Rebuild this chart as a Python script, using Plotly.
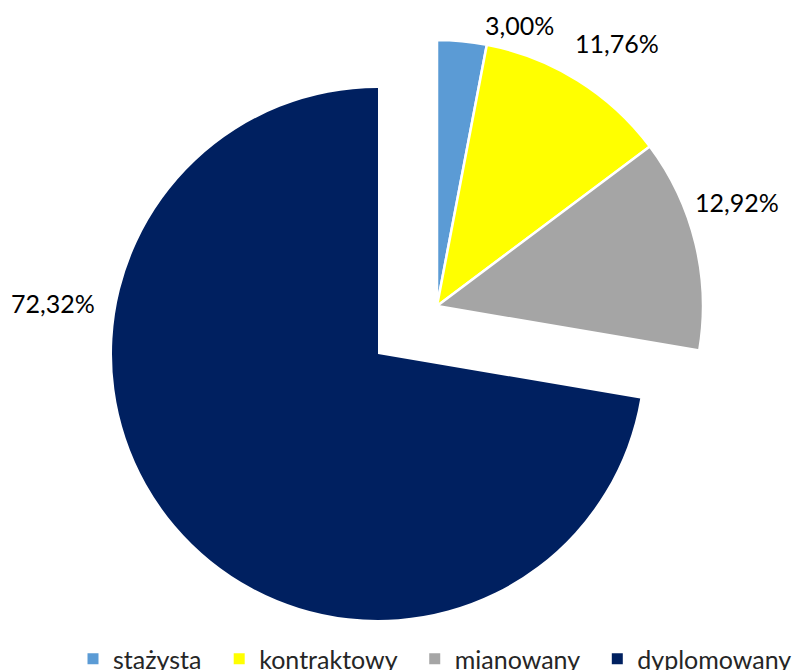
import plotly.graph_objects as go

categories = ["stażysta", "kontraktowy", "mianowany", "dyplomowany"]
values = [3.00, 11.76, 12.92, 72.32]
colors = ["#5B9BD5", "#FFFF00", "#A5A5A5", "#002060"]

# layout helpers (positions, not data); the page body adds an 8px offset
W, H = 795, 662
R = 266
center_small = (429, 298)   # px center of the three small slices
center_big = (370, 346)     # px center of the detached large slice
label_pos = [(511, 17), (609, 35), (729, 194), (45, 295)]  # px label positions

TRANSPARENT = "rgba(0,0,0,0)"
PAD = "\u00a0\u00a0"


def domain_for(cx, cy, r):
    xc = cx / W
    yc = 1 - cy / H
    hy = r / H
    hx = 0.45
    return dict(x=[max(0, xc - hx), min(1, xc + hx)], y=[yc - hy, yc + hy])


def fmt(v):
    return f"{v:.2f}".replace(".", ",") + "%"


big_index = 3
small_colors = [c if i != big_index else TRANSPARENT for i, c in enumerate(colors)]
big_colors = [c if i == big_index else TRANSPARENT for i, c in enumerate(colors)]
small_lw = [2.5 if i != big_index else 0 for i in range(len(values))]
big_lw = [0 for i in range(len(values))]

fig = go.Figure()

fig.add_trace(go.Pie(
    labels=categories, values=values, sort=False, direction="clockwise", rotation=0,
    marker=dict(colors=small_colors, line=dict(color="white", width=small_lw)),
    textinfo="none", hoverinfo="skip", showlegend=False,
    domain=domain_for(*center_small, R),
))
fig.add_trace(go.Pie(
    labels=categories, values=values, sort=False, direction="clockwise", rotation=0,
    marker=dict(colors=big_colors, line=dict(color="white", width=big_lw)),
    textinfo="none", hoverinfo="skip", showlegend=False,
    domain=domain_for(*center_big, R),
))

# legend entries
for i, (cat, col) in enumerate(zip(categories, colors)):
    fig.add_trace(go.Scatter(
        x=[None], y=[None], mode="markers",
        name=cat + (PAD if i < len(categories) - 1 else ""),
        marker=dict(symbol="square", size=11, color=col),
        hoverinfo="skip",
    ))

for v, (px, py) in zip(values, label_pos):
    fig.add_annotation(
        text=fmt(v), x=px / W, y=1 - py / H, xref="paper", yref="paper",
        xanchor="center", yanchor="middle", showarrow=False,
        font=dict(family="Lato", size=25, color="black"),
    )

fig.update_layout(
    width=W, height=H,
    margin=dict(l=0, r=0, t=0, b=0, autoexpand=False),
    paper_bgcolor="white", plot_bgcolor="white",
    xaxis=dict(visible=False), yaxis=dict(visible=False),
    showlegend=True,
    legend=dict(
        orientation="h", x=65 / W, xanchor="left", y=1 - 651 / H, yanchor="middle",
        font=dict(family="Lato", size=25, color="#262626"),
        bgcolor="rgba(0,0,0,0)", traceorder="normal",
    ),
)

fig.write_html("out.html")
